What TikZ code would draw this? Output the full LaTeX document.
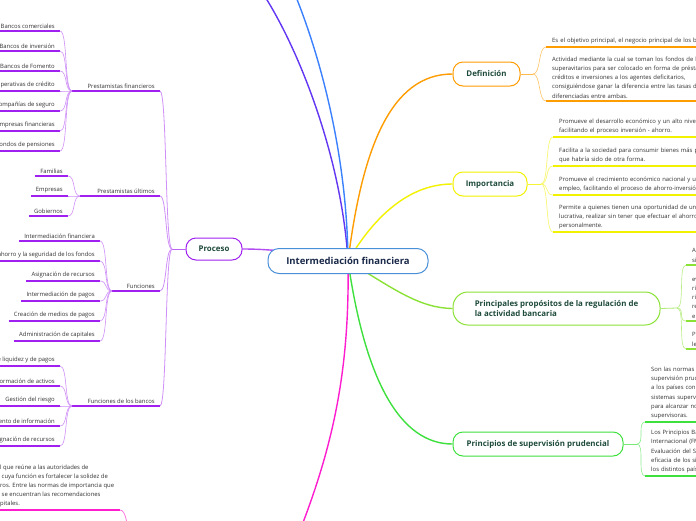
\documentclass[tikz,border=0pt]{standalone}
\usepackage{fontspec}
\setmainfont{Open Sans}
\usetikzlibrary{positioning, backgrounds}

\definecolor{centralBlue}{HTML}{4A90D9}
\definecolor{centralInk}{HTML}{1B2A4A}
\definecolor{branchInk}{HTML}{1E4A3C}
\definecolor{leafInk}{HTML}{333333}
\definecolor{procPurple}{HTML}{A020F0}
\definecolor{defOrange}{HTML}{FF9C00}
\definecolor{impYellow}{HTML}{F2F200}
\definecolor{propGreen}{HTML}{8BE236}
\definecolor{prinGreen}{HTML}{3EE03E}
\definecolor{upViolet}{HTML}{6236F2}
\definecolor{upBlue}{HTML}{3A80FF}
\definecolor{basMagenta}{HTML}{FF1ECF}

\tikzset{
    mainTopic/.style={draw=centralBlue, fill=white, line width=1pt, rounded corners=11pt, minimum width=160pt, minimum height=25pt, font=\fontsize{9.5}{11}\selectfont\bfseries, text=centralInk},
    branchTopic/.style={draw=#1, fill=white, line width=1pt, rounded corners=10pt, minimum height=24pt, font=\fontsize{7.9}{10.5}\selectfont\bfseries, text=branchInk},
    subTopic/.style={anchor=south east, inner xsep=5pt, inner ysep=2.5pt, font=\fontsize{5.9}{7}\selectfont, text=leafInk},
    leafText/.style={anchor=south east, inner xsep=5pt, inner ysep=2.5pt, font=\fontsize{5.9}{7}\selectfont, text=leafInk},
    noteText/.style={anchor=south west, inner xsep=6pt, inner ysep=2.5pt, align=left, text width=280pt, font=\fontsize{5.9}{9.3}\selectfont, text=leafInk},
    noteLeft/.style={anchor=south west, inner xsep=0pt, inner ysep=2.5pt, align=left, font=\fontsize{5.9}{9.1}\selectfont, text=leafInk},
    mainLink/.style={line width=1.4pt},
    subLink/.style={line width=0.8pt},
    leafLink/.style={line width=0.6pt},
    underLine/.style={line width=1.3pt},
}
\newcommand{\leafLeft}[5]{
    \node[leafText] (#3) at (#4) {#5};
    \draw[underLine, #1] (#3.south west) -- (#3.south east);
    \draw[leafLink, #1!50] (#2) .. controls +(-8,0) and +(8,0) .. (#3.south east);
}
\newcommand{\leafRight}[5]{
    \node[noteText] (#3) at (#4) {#5};
    \draw[underLine, #1] (#3.south west) -- (#3.south east);
    \draw[leafLink, #1!60] (#2) .. controls +(8,0) and +(-8,0) .. (#3.south west);
}
\newcommand{\subLeft}[4]{
    \node[subTopic] (#2) at (#3) {#4};
    \draw[subLink, procPurple!50] (procHub) .. controls +(-7,0) and +(7,0) .. (#2.south east);
    \draw[underLine, procPurple] (#1) -- (#2.south east);
}

\begin{document}
\begin{tikzpicture}[x=1pt, y=-1pt]
    \useasboundingbox (0,0) rectangle (696,520);

    % main topics
    \node[mainTopic] (central) at (348,261) {Intermediación financiera};
    \node[branchTopic=procPurple, minimum width=56pt, minimum height=22pt] (proceso) at (214,249) {Proceso};
    \node[branchTopic=defOrange, minimum width=67pt] (definicion) at (486.5,74) {Definición};
    \node[branchTopic=impYellow, minimum width=74pt] (importancia) at (490,184) {Importancia};
    \node[branchTopic=propGreen, minimum width=207pt, minimum height=33pt, rounded corners=15pt, align=left] (propositos) at (556.5,308.5) {Principales propósitos de la regulación de\\la actividad bancaria};
    \node[branchTopic=prinGreen, minimum width=170pt] (principios) at (538,444) {Principios de supervisión prudencial};

    \coordinate (procHub) at (172,249);
    \coordinate (finHub) at (72,91);
    \coordinate (ultHub) at (80,196);
    \coordinate (funHub) at (112,291);
    \coordinate (banHub) at (72,406);
    \coordinate (defHub) at (533,74);
    \coordinate (impHub) at (541,184);
    \coordinate (propHub) at (677,308);
    \coordinate (prinHub) at (637,444);
    \coordinate (upA) at (262,-8);
    \coordinate (upB) at (294,-8);
    \coordinate (downA) at (288,560);
    \coordinate (basEnd) at (120,510);
    \coordinate (basOut) at (128,540);

    \begin{scope}[on background layer]
        \fill[white] (0,0) rectangle (696,520);
        \draw[mainLink, upViolet] (central.center) .. controls (342,160) and (300,50) .. (upA);
        \draw[mainLink, upBlue] (central.center) .. controls (347,150) and (318,50) .. (upB);
        \draw[mainLink, defOrange] (central.center) .. controls (362,150) and (390,74) .. (definicion.west);
        \draw[mainLink, impYellow] (central.center) .. controls (375,215) and (410,184) .. (importancia.west);
        \draw[mainLink, propGreen] (central.center) .. controls (395,290) and (420,308) .. (propositos.west);
        \draw[mainLink, prinGreen] (central.center) .. controls (365,380) and (400,444) .. (principios.west);
        \draw[mainLink, basMagenta] (central.center) .. controls (350,380) and (330,460) .. (downA);
        \draw[mainLink, procPurple!80] (central.center) .. controls (300,252) and (270,249) .. (proceso.east);
    \end{scope}

    % Proceso
    \draw[subLink, procPurple!70] (proceso.west) -- (procHub);
    \subLeft{finHub}{prestFin}{160,91}{Prestamistas financieros}
    \subLeft{ultHub}{prestUlt}{160,196}{Prestamistas últimos}
    \subLeft{funHub}{funciones}{160,291}{Funciones}
    \subLeft{banHub}{funBancos}{160,406}{Funciones de los bancos}

    \leafLeft{procPurple}{finHub}{bancCom}{60,31}{Bancos comerciales}
    \leafLeft{procPurple}{finHub}{bancInv}{60,51}{Bancos de inversión}
    \leafLeft{procPurple}{finHub}{bancFom}{60,71}{Bancos de Fomento}
    \leafLeft{procPurple}{finHub}{coopCred}{60,91}{Cooperativas de crédito}
    \leafLeft{procPurple}{finHub}{compSeg}{60,111}{Compañías de seguro}
    \leafLeft{procPurple}{finHub}{empFin}{60,131}{Empresas financieras}
    \leafLeft{procPurple}{finHub}{fondPen}{60,151}{Fondos de pensiones}

    \leafLeft{procPurple}{ultHub}{familias}{68,176}{Familias}
    \leafLeft{procPurple}{ultHub}{empresas}{68,196}{Empresas}
    \leafLeft{procPurple}{ultHub}{gobiernos}{68,216}{Gobiernos}

    \leafLeft{procPurple}{funHub}{funInter}{100,241}{Intermediación financiera}
    \leafLeft{procPurple}{funHub}{funAhorro}{100,261}{Protección del ahorro y la seguridad de los fondos}
    \leafLeft{procPurple}{funHub}{funAsig}{100,281}{Asignación de recursos}
    \leafLeft{procPurple}{funHub}{funPagos}{100,301}{Intermediación de pagos}
    \leafLeft{procPurple}{funHub}{funMedios}{100,321}{Creación de medios de pagos}
    \leafLeft{procPurple}{funHub}{funCap}{100,341}{Administración de capitales}

    \leafLeft{procPurple}{banHub}{banLiq}{60,366}{Provisión de liquidez y de pagos}
    \leafLeft{procPurple}{banHub}{banTrans}{60,386}{Transformación de activos}
    \leafLeft{procPurple}{banHub}{banRiesgo}{60,406}{Gestión del riesgo}
    \leafLeft{procPurple}{banHub}{banInfo}{60,426}{Procesamiento de información}
    \leafLeft{procPurple}{banHub}{banAsig}{60,446}{Asignación de recursos}

    % Basilea (topic below the frame)
    \node[noteLeft] (basilea) at (0,510) {\llap{Es el comité internaciona}l que reúne a las autoridades de\\\llap{supervisión bancaria,} cuya función es fortalecer la solidez de\\\llap{los sistemas financie}ros. Entre las normas de importancia que\\\llap{ha emitido} se encuentran las recomendaciones\\\llap{de los acuerdos de ca}pitales.};
    \draw[underLine, basMagenta] (basilea.south west) -- (basEnd);
    \draw[subLink, basMagenta!60] (basEnd) .. controls +(6,0) and +(0,-14) .. (basOut);

    % Definicion
    \draw[subLink, defOrange!70] (definicion.east) -- (defHub);
    \leafRight{defOrange}{defHub}{defA}{546,47}{Es el objetivo principal, el negocio principal de los bancos.}
    \leafRight{defOrange}{defHub}{defB}{546,101}{Actividad mediante la cual se toman los fondos de los agentes\\superavitarios para ser colocado en forma de préstamos,\\créditos e inversiones a los agentes deficitarios,\\consiguiéndose ganar la diferencia entre las tasas de interés\\diferenciadas entre ambas.}

    % Importancia
    \draw[subLink, impYellow!80] (importancia.east) -- (impHub);
    \leafRight{impYellow}{impHub}{impA}{553,137}{Promueve el desarrollo económico y un alto nivel de empleo,\\facilitando el proceso inversión - ahorro.}
    \leafRight{impYellow}{impHub}{impB}{553,166}{Facilita a la sociedad para consumir bienes más pronto de lo\\que habría sido de otra forma.}
    \leafRight{impYellow}{impHub}{impC}{553,195}{Promueve el crecimiento económico nacional y un alto nivel de\\empleo, facilitando el proceso de ahorro-inversión.}
    \leafRight{impYellow}{impHub}{impD}{553,232}{Permite a quienes tienen una oportunidad de una inversión\\lucrativa, realizar sin tener que efectuar el ahorro\\personalmente.}

    % Propositos
    \draw[subLink, propGreen!70] (propositos.east) -- (propHub);
    \leafRight{propGreen}{propHub}{propA}{686,265}{Asegurar la estabilidad del\\sistema financiero.}
    \leafRight{propGreen}{propHub}{propB}{686,321}{evitar que los bancos asuman\\riesgos excesivos que pongan en\\riesgo los depósitos del público,\\resguardando la confianza en\\el sistema.}
    \leafRight{propGreen}{propHub}{propC}{686,349}{Promover la competencia\\leal entre las entidades.}

    % Principios
    \draw[subLink, prinGreen!70] (principios.east) -- (prinHub);
    \leafRight{prinGreen}{prinHub}{prinA}{645,422}{Son las normas mínimas para una\\supervisión prudencial, aplicables\\a los países con el fin de fortalecer sus\\sistemas supervisores y una guía\\para alcanzar normas adecuadas\\supervisoras.}
    \leafRight{prinGreen}{prinHub}{prinB}{645,476}{Los Principios Básicos son utilizados por el Fondo Monetario\\Internacional (FMI) y el Banco Mundial en el Programa de\\Evaluación del Sector Financiero (FSAP) para evaluar la\\eficacia de los sistemas y prácticas de supervisión de\\los distintos países.}
\end{tikzpicture}
\end{document}
